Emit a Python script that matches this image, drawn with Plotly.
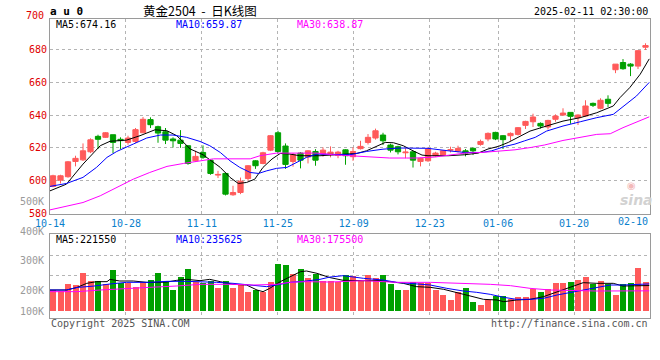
import plotly.graph_objects as go

W, H = 660, 360

# ---------------- data ----------------
opens = [596.5, 600.3, 602.4, 611.7, 612.7, 617.6, 627.0, 626.4, 628.0, 625.2,
         623.3, 623.9, 629.2, 637.2, 632.9, 629.8, 625.4, 624.7, 621.3, 612.1,
         617.2, 612.5, 603.4, 604.4, 591.4, 592.8, 601.3, 612.1, 610.5, 618.6,
         629.2, 621.1, 611.7, 616.8, 614.4, 617.8, 616.2, 616.2, 615.4, 618.8,
         614.6, 619.5, 623.3, 626.0, 627.8, 621.7, 620.7, 617.0, 617.6, 611.7,
         612.1, 615.2, 615.6, 618.6, 618.0, 618.2, 619.7, 622.1, 625.4, 629.4,
         627.4, 627.4, 628.2, 633.7, 635.9, 634.9, 632.7, 637.4, 640.0, 641.6,
         638.4, 639.4, 647.1, 644.1, 649.6, 667.6, 672.0, 671.0, 669.8, 681.3]
highs = [603.6, 603.6, 612.0, 615.2, 622.7, 625.8, 628.0, 629.6, 628.0, 626.4,
         627.4, 632.1, 638.8, 638.6, 633.5, 632.1, 626.4, 630.8, 621.5, 618.2,
         621.5, 612.8, 606.0, 605.0, 596.9, 601.9, 609.5, 612.5, 617.6, 627.8,
         630.4, 622.7, 616.8, 617.4, 618.6, 619.2, 620.3, 620.9, 618.2, 619.2,
         620.3, 624.3, 628.4, 631.7, 629.2, 622.5, 621.3, 619.7, 618.2, 614.0,
         620.3, 617.6, 618.6, 620.7, 621.3, 619.3, 620.3, 625.0, 629.4, 629.8,
         627.8, 629.4, 632.7, 636.5, 640.8, 635.5, 637.1, 640.4, 644.1, 641.6,
         640.4, 649.0, 647.6, 650.2, 652.0, 671.0, 674.1, 671.6, 679.6, 683.7]
lows = [596.0, 598.3, 601.8, 608.7, 612.0, 616.8, 619.3, 626.0, 616.8, 619.3,
        621.9, 623.0, 629.0, 632.1, 623.1, 622.3, 620.2, 620.0, 609.7, 611.5,
        613.3, 603.6, 601.6, 591.0, 590.8, 591.8, 600.0, 607.2, 610.0, 618.0,
        617.0, 607.2, 608.5, 607.5, 610.5, 609.1, 614.6, 614.2, 613.7, 609.7,
        612.1, 619.0, 622.0, 625.0, 621.7, 617.2, 616.0, 613.7, 608.0, 608.7,
        611.5, 614.6, 615.2, 617.2, 617.2, 614.8, 615.6, 621.3, 624.0, 624.7,
        619.3, 624.3, 627.5, 631.5, 632.7, 631.8, 631.2, 635.9, 639.4, 634.7,
        633.9, 639.0, 644.9, 643.5, 644.9, 665.5, 667.6, 663.7, 668.0, 679.6]
closes = [603.0, 603.0, 611.5, 613.6, 618.2, 624.9, 625.2, 629.2, 623.3, 624.4,
          626.0, 631.1, 637.4, 634.1, 629.0, 624.7, 624.3, 622.7, 610.5, 614.8,
          614.2, 604.4, 603.8, 591.8, 592.8, 599.7, 609.1, 609.1, 617.0, 627.4,
          617.8, 609.9, 615.8, 612.5, 618.2, 612.5, 618.6, 617.4, 617.4, 615.2,
          617.8, 620.9, 626.4, 630.4, 624.3, 618.6, 617.6, 617.4, 612.5, 613.6,
          619.3, 616.8, 618.2, 618.9, 619.7, 616.8, 618.2, 623.9, 628.8, 625.4,
          625.0, 628.8, 632.3, 636.1, 638.8, 633.3, 636.7, 639.4, 641.2, 639.2,
          640.0, 645.5, 645.9, 649.0, 647.1, 671.0, 668.2, 669.8, 679.2, 682.3]
volumes = [182700, 168200, 234900, 226200, 330600, 261000, 261000, 234900, 356700, 240700,
           240700, 208800, 249400, 269700, 330600, 261000, 182700, 295800, 365400, 252300,
           240700, 261000, 200100, 261000, 200100, 234900, 165300, 182700, 165300, 252300,
           408900, 400200, 321900, 365400, 287100, 321900, 261000, 261000, 249400, 313200,
           298700, 261000, 307400, 284200, 307400, 229100, 182700, 182700, 249400, 240700,
           240700, 176900, 133400, 95700, 162400, 200100, 78300, 52200, 95700, 124700,
           130500, 101500, 118900, 118900, 188500, 165300, 191400, 237800, 243600, 252300,
           269700, 295800, 229100, 261000, 234900, 133400, 234900, 243600, 374100, 252300]
day_index = list(range(len(closes)))

# moving-average lines (position in trading days, value)
ma5_x = [-0.4, 1.8, 4.0, 6.3, 7.6, 9.8, 11.6, 13.6, 15.2, 16.5, 18.3, 20.0, 22.3, 23.6,
         24.7, 25.8, 26.9, 28.0, 29.2, 30.3, 31.6, 32.9, 35.6, 37.3, 39.2, 40.5, 41.8,
         43.2, 44.3, 45.4, 46.7, 48.0, 49.2, 50.0, 52.7, 54.9, 56.7, 58.0, 59.4, 60.7,
         62.0, 63.6, 65.8, 68.0, 70.3, 72.5, 74.7, 75.6, 76.9, 78.3, 79.5]
ma5_y = [593.8, 597.9, 610.1, 621.3, 624.0, 624.7, 627.4, 631.0, 630.4, 627.4, 619.3,
         615.8, 608.1, 602.0, 598.3, 598.9, 600.9, 608.1, 613.2, 616.6, 616.2, 615.2,
         615.2, 615.6, 616.2, 616.6, 618.2, 621.3, 623.3, 623.1, 621.3, 618.2, 615.6,
         615.2, 615.2, 615.8, 616.8, 619.3, 620.9, 623.3, 626.4, 630.2, 633.3, 636.3,
         638.4, 641.4, 645.5, 650.6, 656.7, 664.9, 674.2]
ma10_x = [-0.4, 1.8, 4.0, 5.8, 7.2, 8.5, 10.7, 12.5, 14.3, 16.0, 17.8, 19.6, 20.9, 22.3,
          23.6, 24.9, 26.3, 27.4, 28.5, 29.8, 31.2, 32.5, 33.8, 35.2, 37.3, 39.6, 41.8,
          44.0, 46.3, 48.9, 50.0, 52.7, 54.9, 57.2, 58.5, 60.3, 61.6, 62.9, 64.3, 65.8,
          68.0, 70.3, 72.5, 74.7, 76.0, 77.8, 79.5]
ma10_y = [596.5, 598.3, 602.0, 608.1, 614.2, 617.8, 622.3, 626.0, 627.8, 627.8, 626.4,
          623.9, 621.3, 617.2, 612.1, 608.1, 605.0, 604.4, 606.0, 607.5, 608.1, 611.1,
          614.2, 616.2, 616.2, 615.8, 617.8, 619.2, 619.9, 619.9, 619.7, 618.2, 617.2,
          617.2, 618.2, 620.9, 622.3, 624.3, 626.4, 630.2, 633.3, 635.9, 638.4, 640.4,
          644.9, 651.6, 659.9]
ma30_x = [-0.4, 4.0, 6.3, 8.5, 10.7, 12.9, 15.2, 17.4, 19.6, 21.4, 26.3, 27.6, 29.8,
          32.9, 35.2, 37.3, 40.0, 42.7, 44.9, 47.1, 48.3, 50.9, 52.7, 54.9, 57.2, 59.4,
          61.6, 63.8, 65.5, 68.0, 72.5, 74.3, 76.0, 79.5]
ma30_y = [582.2, 586.7, 590.8, 595.9, 600.9, 605.0, 608.7, 610.5, 612.1, 613.3, 613.3,
          615.2, 616.8, 616.8, 616.8, 615.8, 615.2, 614.2, 613.8, 613.8, 613.8, 614.4,
          615.6, 616.8, 617.2, 618.2, 618.8, 620.3, 621.7, 624.5, 628.2, 628.6, 632.3,
          638.9]

vma5_x = [-0.4, 1.8, 3.2, 4.5, 5.8, 7.2, 7.6, 8.9, 10.7, 12.5, 14.3, 15.2, 16.5, 17.8,
          19.6, 20.9, 22.3, 24.0, 25.8, 27.2, 28.0, 28.9, 30.3, 31.6, 33.0, 33.8, 35.2,
          36.9, 38.7, 41.4, 43.6, 44.9, 46.7, 48.5, 50.3, 52.1, 53.8, 55.6, 57.4, 59.2,
          60.1, 61.8, 63.6, 65.4, 67.2, 69.0, 70.7, 72.5, 74.7, 76.0, 77.8, 79.5]
vma5_y = [182700, 182700, 205000, 240700, 255200, 255200, 275500, 261000, 261000, 249400,
          249400, 252300, 266800, 275500, 263900, 275500, 255200, 232000, 226200, 182700,
          168200, 197200, 255200, 298700, 342200, 348000, 327700, 291000, 266800, 264000,
          264000, 255200, 240700, 211700, 205900, 188500, 162400, 133400, 101500, 95700,
          81200, 95700, 101500, 124700, 168200, 211700, 246500, 240700, 240700, 217500,
          217500, 221550]
vma10_x = [-0.4, 1.8, 3.2, 5.4, 7.6, 9.8, 12.9, 15.2, 17.8, 19.6, 21.8, 24.0, 26.3, 28.5,
           30.3, 31.6, 33.8, 35.6, 36.9, 38.7, 41.4, 44.0, 45.8, 47.6, 50.3, 52.5, 54.7,
           56.5, 58.3, 60.1, 61.8, 63.6, 65.4, 67.2, 69.0, 70.7, 72.5, 74.3, 76.0, 77.8,
           79.5]
vma10_y = [182700, 182700, 205000, 216600, 234900, 249400, 249400, 258100, 258100, 255200,
           249400, 240700, 226200, 211700, 232000, 249400, 261000, 275500, 295000, 307400,
           284200, 269700, 249400, 240700, 226200, 197200, 174000, 162400, 145000, 118900,
           101500, 101500, 110200, 139200, 162400, 182700, 203000, 226200, 226200, 232000,
           235625]
vma30_x = [-0.4, 3.2, 6.3, 9.8, 12.9, 16.5, 19.6, 24.0, 26.7, 29.8, 31.6, 33.8, 36.9,
           41.4, 45.8, 50.3, 54.7, 58.3, 61.0, 63.6, 66.3, 69.0, 72.5, 79.5]
vma30_y = [168200, 168200, 182700, 197200, 205900, 217500, 232000, 232000, 226200, 232000,
           249400, 255200, 252000, 264000, 249400, 249400, 240700, 232000, 220400, 197200,
           182700, 176900, 174000, 175500]

tick_days = [0, 10, 20, 30, 40, 50, 59, 69]
tick_labels = ["10-14", "10-28", "11-11", "11-25", "12-09", "12-23", "01-06", "01-20"]
last_tick_label = "02-10"

price_ticks = [580, 600, 620, 640, 660, 680]
vol_labels = ["500K", "400K", "300K", "200K", "100K"]

title_code = "a u 0"
title_text = "黄金2504\u00a0\u00a0-\u00a0\u00a0日K线图"
stamp = "2025-02-11 02:30:00"
ma_main = ["MA5:674.16", "MA10:659.87", "MA30:638.87"]
ma_vol = ["MA5:221550", "MA10:235625", "MA30:175500"]

# ---------------- styling ----------------
RED = "#FF5A5A"
GREEN = "#00A000"
GRID = "#b4b4b4"
BORDER = "#9a9a9a"
MONO = "DejaVu Sans Mono"


def pxx(x):
    return x / W


def pxy(y):
    return 1 - y / H


n = len(closes)
# Sina spaces its grid lines with n-1 steps over the same width as n candle slots
grid_pos = [d * n / (n - 1) - 0.4 for d in tick_days]

bar_colors = [RED if c >= o else GREEN for o, c in zip(opens, closes)]

fig = go.Figure()
fig.add_trace(go.Candlestick(
    x=day_index, open=opens, high=highs, low=lows, close=closes,
    increasing=dict(line=dict(color=RED, width=1), fillcolor=RED),
    decreasing=dict(line=dict(color=GREEN, width=1), fillcolor=GREEN),
    whiskerwidth=0, xaxis="x", yaxis="y", hoverinfo="skip"))
for xs, ys, col in [(ma5_x, ma5_y, "black"), (ma10_x, ma10_y, "#0000FF"),
                    (ma30_x, ma30_y, "#FF00FF")]:
    fig.add_trace(go.Scatter(x=xs, y=ys, mode="lines", line=dict(color=col, width=1),
                             xaxis="x", yaxis="y", hoverinfo="skip"))

fig.add_trace(go.Bar(x=day_index, y=volumes, width=0.8, marker=dict(color=bar_colors, line=dict(width=0)),
                     xaxis="x2", yaxis="y2", hoverinfo="skip"))
for xs, ys, col in [(vma5_x, vma5_y, "black"), (vma10_x, vma10_y, "#0000FF"),
                    (vma30_x, vma30_y, "#FF00FF")]:
    fig.add_trace(go.Scatter(x=xs, y=ys, mode="lines", line=dict(color=col, width=1),
                             xaxis="x2", yaxis="y2", hoverinfo="skip"))

axis_common = dict(showline=True, mirror=True, linecolor=BORDER, linewidth=1,
                   showgrid=True, gridcolor=GRID, griddash="dot", gridwidth=1,
                   zeroline=False, ticks="", fixedrange=True, automargin=False)

fig.update_layout(
    width=W, height=H, autosize=False,
    margin=dict(l=0, r=0, t=0, b=0, autoexpand=False),
    paper_bgcolor="white", plot_bgcolor="white",
    showlegend=False, bargap=0, boxgap=0.3, boxgroupgap=0,
    xaxis=dict(domain=[pxx(50), pxx(650)], anchor="y", range=[-0.4, n - 0.4],
               tickmode="array", tickvals=grid_pos, ticktext=tick_labels,
               tickfont=dict(family=MONO, size=10, color="#0A80CC"),
               rangeslider=dict(visible=False), **axis_common),
    yaxis=dict(domain=[pxy(213.5), pxy(19)], anchor="x", range=[580, 698.5],
               tickmode="array", tickvals=price_ticks, ticktext=[str(v) for v in price_ticks],
               tickfont=dict(family=MONO, size=10, color="#E00000"), **axis_common),
    xaxis2=dict(domain=[pxx(50), pxx(650)], anchor="y2", matches="x",
                tickmode="array", tickvals=grid_pos, showticklabels=False, **axis_common),
    yaxis2=dict(domain=[pxy(318.3), pxy(234.3)], anchor="x2", range=[-63500, 667300],
                tickmode="array", tickvals=[308900, 482900], showticklabels=False, **axis_common),
)

ann = []


def add_text(text, x, y, anchor="left", size=10, color="black", family=MONO, bold=False, italic=False):
    t = f"<b>{text}</b>" if bold else text
    t = f"<i>{t}</i>" if italic else t
    ann.append(dict(text=t, x=pxx(x), y=pxy(y), xref="paper", yref="paper",
                    xanchor=anchor, yanchor="middle", showarrow=False,
                    font=dict(family=family, size=size, color=color)))


add_text(title_code, 48, 12, size=11, bold=True)
add_text(title_text, 200, 10.5, anchor="center", size=12.5, family="Noto Sans CJK SC")
add_text(stamp, 650, 12, anchor="right")
add_text("700", 46, 16, anchor="right", color="#E00000")
for txt, x, col in zip(ma_main, [54, 174, 295], ["black", "#0000FF", "#FF00FF"]):
    add_text(txt, x, 24.5, color=col)
for txt, x, col in zip(ma_vol, [54, 174, 295], ["black", "#0000FF", "#FF00FF"]):
    add_text(txt, x, 239, color=col)
for txt, y in zip(vol_labels, [201, 231, 260, 290.7, 311]):
    add_text(txt, 46, y, anchor="right", color="#9a9a9a")
add_text(last_tick_label, 650, 221.5, anchor="right", color="#0A80CC")
add_text("Copyright 2025 SINA.COM", 49, 323.5, color="#555555")
add_text("http://finance.sina.com.cn", 650, 323.5, anchor="right", color="#555555")
add_text("◉", 631, 185.5, anchor="center", size=10, color="#f3b9b9", family="DejaVu Sans")
add_text("sina", 636, 200, anchor="center", size=14, color="#d2d2d2",
         family="DejaVu Sans", bold=True, italic=True)

fig.update_layout(annotations=ann)
fig.write_html("out.html", config={"displayModeBar": False},
               post_script="document.body.style.margin='0';")
